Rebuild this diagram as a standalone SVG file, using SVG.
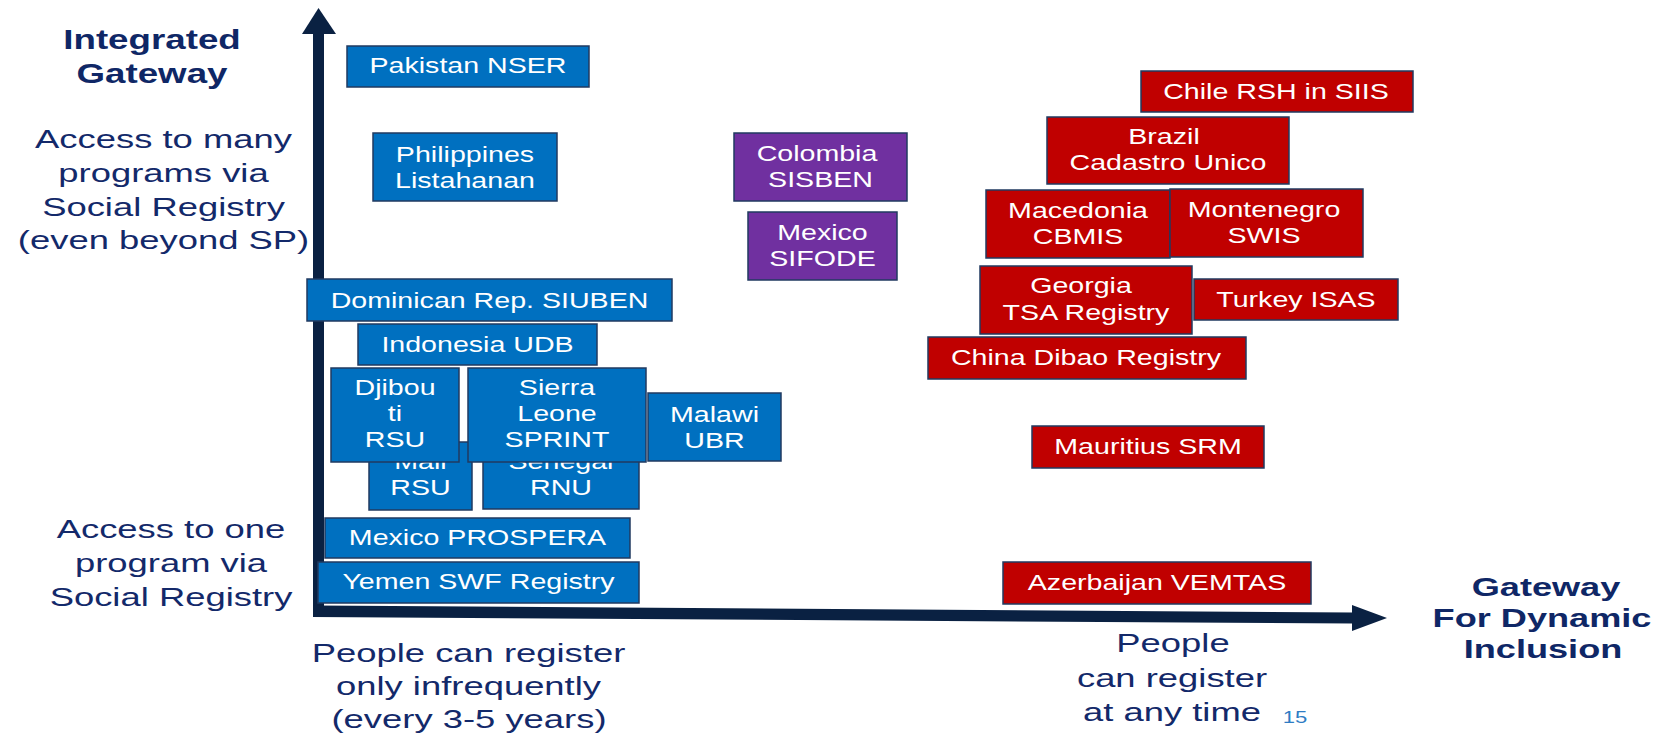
<svg xmlns="http://www.w3.org/2000/svg" width="1661" height="735" viewBox="0 0 1661 735">
<style>
.bg{fill:#ffffff}
.ax{fill:#0A2142}
.box rect{stroke:#203A60;stroke-width:1.5}
.blue rect{fill:#0070C0}
.purple rect{fill:#7030A0}
.red rect{fill:#C00000}
.bt{font-family:"Liberation Sans",Arial,sans-serif;font-size:22px;fill:#ffffff;text-anchor:middle}
.lab{font-family:"Liberation Sans",Arial,sans-serif;font-size:26px;fill:#13296A;text-anchor:middle}
.hd{font-family:"Liberation Sans",Arial,sans-serif;font-size:27px;font-weight:bold;fill:#0F2766;text-anchor:middle}
.pg{font-family:"Liberation Sans",Arial,sans-serif;font-size:17px;fill:#2E7CC4;text-anchor:middle}
</style>
<rect class="bg" x="0" y="0" width="1661" height="735"/>

<g id="axes">
  <rect class="ax" x="313" y="32" width="11" height="585"/>
  <path class="ax" d="M302,34 L318.5,8 L336,34 Z"/>
  <path class="ax" d="M313,605.5 L1353,612.5 L1353,623.5 L313,617 Z"/>
  <path class="ax" d="M1352,605 L1387,618 L1352,631 Z"/>
</g>

<g id="labels">
  <g id="label-integrated">
    <text class="hd" transform="translate(152,49) scale(1.36,1)">Integrated</text>
    <text class="hd" transform="translate(152,83) scale(1.36,1)">Gateway</text>
  </g>
  <g id="label-many">
    <text class="lab" transform="translate(163.5,148) scale(1.4,1)">Access to many</text>
    <text class="lab" transform="translate(163.5,182) scale(1.4,1)">programs via</text>
    <text class="lab" transform="translate(163.5,216) scale(1.4,1)">Social Registry</text>
    <text class="lab" transform="translate(163.5,249) scale(1.4,1)">(even beyond SP)</text>
  </g>
  <g id="label-one">
    <text class="lab" transform="translate(171,538) scale(1.4,1)">Access to one</text>
    <text class="lab" transform="translate(171,572) scale(1.4,1)">program via</text>
    <text class="lab" transform="translate(171,606) scale(1.4,1)">Social Registry</text>
  </g>
  <g id="label-infrequent">
    <text class="lab" transform="translate(468.5,662) scale(1.4,1)">People can register</text>
    <text class="lab" transform="translate(468.5,695) scale(1.4,1)">only infrequently</text>
    <text class="lab" transform="translate(469,728) scale(1.4,1)">(every 3-5 years)</text>
  </g>
  <g id="label-anytime">
    <text class="lab" transform="translate(1173,652) scale(1.4,1)">People</text>
    <text class="lab" transform="translate(1172,687) scale(1.4,1)">can register</text>
    <text class="lab" transform="translate(1172,721) scale(1.4,1)">at any time</text>
  </g>
  <g id="label-dynamic">
    <text class="hd" style="font-size:26px" transform="translate(1546,596) scale(1.39,1)">Gateway</text>
    <text class="hd" style="font-size:26px" transform="translate(1542,627) scale(1.39,1)">For Dynamic</text>
    <text class="hd" style="font-size:26px" transform="translate(1543,658) scale(1.39,1)">Inclusion</text>
  </g>
  <text id="page-number" class="pg" transform="translate(1295,723) scale(1.3,1)">15</text>
</g>

<g id="nodes">
  <g id="pakistan" class="box blue">
    <rect x="347" y="46" width="242" height="41"/>
    <text class="bt" transform="translate(468,73) scale(1.3,1)">Pakistan NSER</text>
  </g>
  <g id="philippines" class="box blue">
    <rect x="373" y="133" width="184" height="68"/>
    <text class="bt" transform="translate(465,162) scale(1.3,1)">Philippines</text>
    <text class="bt" transform="translate(465,188) scale(1.3,1)">Listahanan</text>
  </g>
  <g id="dominican" class="box blue">
    <rect x="307" y="279" width="365" height="42"/>
    <text class="bt" transform="translate(489.5,308) scale(1.3,1)">Dominican Rep. SIUBEN</text>
  </g>
  <g id="indonesia" class="box blue">
    <rect x="358" y="324" width="239" height="41"/>
    <text class="bt" transform="translate(477.5,351.5) scale(1.3,1)">Indonesia UDB</text>
  </g>
  <g id="mali" class="box blue">
    <rect x="369" y="442" width="103" height="68"/>
    <text class="bt" transform="translate(420.5,469) scale(1.3,1)">Mali</text>
    <text class="bt" transform="translate(420.5,495) scale(1.3,1)">RSU</text>
  </g>
  <g id="senegal" class="box blue">
    <rect x="483" y="442" width="156" height="67"/>
    <text class="bt" transform="translate(561,469) scale(1.3,1)">Senegal</text>
    <text class="bt" transform="translate(561,495) scale(1.3,1)">RNU</text>
  </g>
  <g id="djibouti" class="box blue">
    <rect x="331" y="368" width="128" height="94"/>
    <text class="bt" transform="translate(395,395) scale(1.3,1)">Djibou</text>
    <text class="bt" transform="translate(395,421) scale(1.3,1)">ti</text>
    <text class="bt" transform="translate(395,447) scale(1.3,1)">RSU</text>
  </g>
  <g id="sierra-leone" class="box blue">
    <rect x="468" y="368" width="178" height="94"/>
    <text class="bt" transform="translate(557,395) scale(1.3,1)">Sierra</text>
    <text class="bt" transform="translate(557,421) scale(1.3,1)">Leone</text>
    <text class="bt" transform="translate(557,447) scale(1.3,1)">SPRINT</text>
  </g>
  <g id="malawi" class="box blue">
    <rect x="648" y="393" width="133" height="68"/>
    <text class="bt" transform="translate(714.5,422) scale(1.3,1)">Malawi</text>
    <text class="bt" transform="translate(714.5,448) scale(1.3,1)">UBR</text>
  </g>
  <g id="mexico-prospera" class="box blue">
    <rect x="325" y="518" width="305" height="40"/>
    <text class="bt" transform="translate(477.5,545) scale(1.3,1)">Mexico PROSPERA</text>
  </g>
  <g id="yemen" class="box blue">
    <rect x="318" y="562" width="321" height="41"/>
    <text class="bt" transform="translate(478.5,589) scale(1.3,1)">Yemen SWF Registry</text>
  </g>

  <g id="colombia" class="box purple">
    <rect x="734" y="133" width="173" height="68"/>
    <text class="bt" transform="translate(817,161) scale(1.3,1)">Colombia</text>
    <text class="bt" transform="translate(820.5,187) scale(1.3,1)">SISBEN</text>
  </g>
  <g id="mexico-sifode" class="box purple">
    <rect x="748" y="212" width="149" height="68"/>
    <text class="bt" transform="translate(822.5,240) scale(1.3,1)">Mexico</text>
    <text class="bt" transform="translate(822.5,266) scale(1.3,1)">SIFODE</text>
  </g>

  <g id="chile" class="box red">
    <rect x="1141" y="71" width="272" height="41"/>
    <text class="bt" transform="translate(1276,99) scale(1.3,1)">Chile RSH in SIIS</text>
  </g>
  <g id="brazil" class="box red">
    <rect x="1047" y="117" width="242" height="67"/>
    <text class="bt" transform="translate(1164,144) scale(1.3,1)">Brazil</text>
    <text class="bt" transform="translate(1168,170) scale(1.3,1)">Cadastro Unico</text>
  </g>
  <g id="macedonia" class="box red">
    <rect x="986" y="190" width="184" height="68"/>
    <text class="bt" transform="translate(1078,218) scale(1.3,1)">Macedonia</text>
    <text class="bt" transform="translate(1078,244) scale(1.3,1)">CBMIS</text>
  </g>
  <g id="montenegro" class="box red">
    <rect x="1170" y="189" width="193" height="68"/>
    <text class="bt" transform="translate(1264,217) scale(1.3,1)">Montenegro</text>
    <text class="bt" transform="translate(1264,243) scale(1.3,1)">SWIS</text>
  </g>
  <g id="georgia" class="box red">
    <rect x="980" y="266" width="212" height="68"/>
    <text class="bt" transform="translate(1081,293) scale(1.3,1)">Georgia</text>
    <text class="bt" transform="translate(1086,320) scale(1.3,1)">TSA Registry</text>
  </g>
  <g id="turkey" class="box red">
    <rect x="1194" y="279" width="204" height="41"/>
    <text class="bt" transform="translate(1296,307) scale(1.3,1)">Turkey ISAS</text>
  </g>
  <g id="china" class="box red">
    <rect x="928" y="337" width="318" height="42"/>
    <text class="bt" transform="translate(1086,365) scale(1.3,1)">China Dibao Registry</text>
  </g>
  <g id="mauritius" class="box red">
    <rect x="1032" y="426" width="232" height="42"/>
    <text class="bt" transform="translate(1148,454) scale(1.3,1)">Mauritius SRM</text>
  </g>
  <g id="azerbaijan" class="box red">
    <rect x="1003" y="562" width="308" height="42"/>
    <text class="bt" transform="translate(1157,590) scale(1.3,1)">Azerbaijan VEMTAS</text>
  </g>
</g>
</svg>
